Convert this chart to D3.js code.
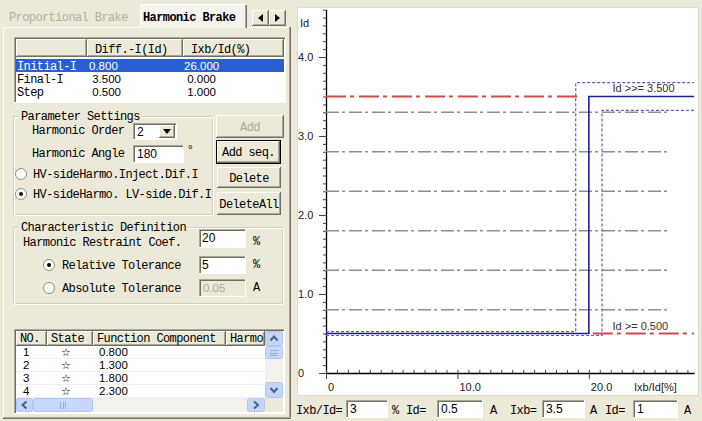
<!DOCTYPE html>
<html>
<head>
<meta charset="utf-8">
<script src="https://cdn.jsdelivr.net/npm/d3@7"></script>
<style>
body { margin: 0; background: #ece9d8; }
svg { display: block; }
</style>
</head>
<body>
<svg id="app" width="702" height="421"></svg>
<script>
// ---- chart values ----
const yMajor = [0, 1, 2, 3, 4];
const yMajorLabels = ['0', '1.0', '2.0', '3.0', '4.0'];
const xMajor = [0, 10, 20];
const xMajorLabels = ['0', '10.0', '20.0'];
const componentId = [0.8, 1.3, 1.8, 2.3, 2.8, 3.3];   // test points (Id)
const componentEnd = 26;                              // Ixb/Id initial (%)
const characteristic = [[0, 0.5], [20, 0.5], [20, 3.5], [28, 3.5]];
const upperBand = [[0, 0.525], [19, 0.525], [19, 3.675], [28, 3.675]];
const lowerBand = [[0, 0.475], [21, 0.475], [21, 3.325], [28, 3.325]];
const limitLines = [{ id: 3.5, from: 0, to: 19.3 }, { id: 0.5, from: 20.3, to: 28 }];
const limitLabels = ['Id >>= 3.500', 'Id >= 0.500'];

// ---- form values ----
const tabLabels = ['Proportional Brake', 'Harmonic Brake'];
const paramHeader = ['', 'Diff.-I(Id)', 'Ixb/Id(%)'];
const paramRows = ['Initial-I', 'Final-I', 'Step'];
const diffValues = ['0.800', ' 3.500', ' 0.500'];
const ratioValues = ['26.000', ' 0.000', ' 1.000'];
const listHeader = ['NO.', 'State', 'Function Component', 'Harmo'];
const listNo = ['1', '2', '3', '4'];
const listComponent = ['0.800', '1.300', '1.800', '2.300'];
const bottomFields = [
    { name: 'Ixb/Id=', value: '3', unit: '%' },
    { name: 'Id=', value: '0.5', unit: 'A' },
    { name: 'Ixb=', value: '3.5', unit: 'A' },
    { name: 'Id=', value: '1', unit: 'A' }
];

const svg = d3.select('#app');
const MONO = "'Liberation Mono', 'DejaVu Sans Mono', monospace";
const SANS = "'Liberation Sans', Arial, sans-serif";
const BG = '#ece9d8';

svg.append('rect').attr('width', 702).attr('height', 421).attr('fill', BG);

function px(g, x, y, w, h, color) {
    g.append('rect').attr('x', x).attr('y', y).attr('width', w).attr('height', h)
        .attr('fill', color).attr('shape-rendering', 'crispEdges');
}

function label(g, x, y, str, opts = {}) {
    return g.append('text')
        .attr('x', x).attr('y', y)
        .attr('font-family', opts.font || MONO)
        .attr('font-size', opts.size || 12)
        .attr('letter-spacing', opts.font ? 0 : (opts.spacing !== undefined ? opts.spacing : -0.6))
        .attr('font-weight', opts.weight || 'normal')
        .attr('fill', opts.color || '#000')
        .attr('text-anchor', opts.anchor || 'start')
        .attr('xml:space', 'preserve')
        .text(str);
}

function raised(g, x, y, w, h) {
    px(g, x, y, w, h, BG);
    px(g, x, y, w, 1, '#fff'); px(g, x, y, 1, h, '#fff');
    px(g, x, y + h - 1, w, 1, '#716f64'); px(g, x + w - 1, y, 1, h, '#716f64');
    px(g, x + 1, y + h - 2, w - 2, 1, '#aca899'); px(g, x + w - 2, y + 1, 1, h - 2, '#aca899');
}

function sunken(g, x, y, w, h, fill) {
    px(g, x, y, w, h, fill || '#fff');
    px(g, x, y, w, 1, '#aca899'); px(g, x, y, 1, h, '#aca899');
    px(g, x + 1, y + 1, w - 2, 1, '#716f64'); px(g, x + 1, y + 1, 1, h - 2, '#716f64');
    px(g, x, y + h - 1, w, 1, '#fff'); px(g, x + w - 1, y, 1, h, '#fff');
}

function button(g, x, y, w, h, text, opts = {}) {
    if (opts.isDefault) {
        px(g, x, y, w, h, '#000');
        raised(g, x + 1, y + 1, w - 2, h - 2);
    } else {
        raised(g, x, y, w, h);
    }
    label(g, x + w / 2, y + h / 2 + 4, text, { anchor: 'middle', color: opts.disabled ? '#aca899' : '#000' });
}

function radio(g, cx, cy, checked) {
    g.append('circle').attr('cx', cx).attr('cy', cy).attr('r', 5.5)
        .attr('fill', '#fff').attr('stroke', '#8d8b80');
    if (checked) g.append('circle').attr('cx', cx).attr('cy', cy).attr('r', 2).attr('fill', '#000');
}

function groupBox(g, x, y, w, h, title) {
    g.append('rect').attr('x', x + 0.5).attr('y', y + 0.5).attr('width', w - 1).attr('height', h - 1)
        .attr('fill', 'none').attr('stroke', '#d0d0bf');
    g.append('rect').attr('x', x + 1.5).attr('y', y + 1.5).attr('width', w - 1).attr('height', h - 1)
        .attr('fill', 'none').attr('stroke', '#fff');
    px(g, x + 6, y - 6, title.length * 6.6 + 3, 12, BG);
    label(g, x + 8, y + 4, title);
}

function xpArrow(g, x, y, w, h, dir) {
    g.append('rect').attr('x', x + 0.5).attr('y', y + 0.5).attr('width', w - 1).attr('height', h - 1)
        .attr('rx', 2).attr('fill', '#c4d5fc').attr('stroke', '#b1c5f3');
    const cx = x + w / 2, cy = y + h / 2;
    const pts = {
        up: [[cx - 3.5, cy + 2], [cx, cy - 2], [cx + 3.5, cy + 2]],
        down: [[cx - 3.5, cy - 2], [cx, cy + 2], [cx + 3.5, cy - 2]],
        left: [[cx + 2, cy - 3.5], [cx - 2, cy], [cx + 2, cy + 3.5]],
        right: [[cx - 2, cy - 3.5], [cx + 2, cy], [cx - 2, cy + 3.5]]
    }[dir];
    g.append('path').attr('d', d3.line()(pts)).attr('fill', 'none')
        .attr('stroke', '#4d6185').attr('stroke-width', 2);
}

// ================= left panel =================
const left = svg.append('g');

// tab page frame
px(left, 3, 27, 287, 1, '#fff');
px(left, 3, 27, 1, 392, '#fff');
px(left, 289, 27, 1, 392, '#aca899'); px(left, 290, 27, 1, 392, '#716f64');
px(left, 3, 417, 288, 1, '#aca899'); px(left, 3, 418, 288, 1, '#716f64');

// tabs
label(left, 9, 21, tabLabels[0], { color: '#b0ad9e' });
px(left, 140, 4, 107, 24, '#f4f3ee');
px(left, 140, 4, 106, 1, '#fff'); px(left, 140, 4, 1, 24, '#fff');
px(left, 245, 5, 1, 23, '#aca899'); px(left, 246, 5, 1, 23, '#716f64');
label(left, 143, 21, tabLabels[1], { weight: 'bold' });
raised(left, 252, 10, 17, 16);
raised(left, 269, 10, 17, 16);
left.append('path').attr('d', 'M263,14 L258,18 L263,22 Z').attr('fill', '#000');
left.append('path').attr('d', 'M275,14 L280,18 L275,22 Z').attr('fill', '#000');

// parameter table
const colX = [16, 87, 183, 284];
sunken(left, 14, 37, 272, 66, '#fff');
paramHeader.forEach((h, i) => {
    raised(left, colX[i], 39, colX[i + 1] - colX[i], 18);
    if (h) label(left, colX[i] + 8, 53, h);
});
px(left, 16, 59, 268, 13, '#2a5fd4');
paramRows.forEach((r, i) => {
    const by = 70 + i * 13;
    const c = i === 0 ? '#fff' : '#000';
    label(left, 17, by, r, { color: c });
    label(left, 89, by, diffValues[i], { color: c, font: SANS, size: 11.5 });
    label(left, 184, by, ratioValues[i], { color: c, font: SANS, size: 11.5 });
});

// parameter settings
groupBox(left, 13, 116, 200, 99, 'Parameter Settings');
label(left, 32, 134, 'Harmonic Order');
sunken(left, 133, 123, 44, 17, '#fff');
label(left, 137, 136, '2', { font: SANS, size: 12 });
raised(left, 159, 125, 16, 13);
left.append('path').attr('d', 'M163,129 L171,129 L167,134 Z').attr('fill', '#000');
button(left, 216, 115, 68, 23, 'Add', { disabled: true });

label(left, 32, 157, 'Harmonic Angle');
sunken(left, 133, 145, 51, 18, '#fff');
label(left, 137, 158, '180', { font: SANS, size: 12 });
label(left, 188, 154, '°', { font: SANS, size: 12 });
button(left, 216, 140, 65, 24, 'Add seq.', { isDefault: true });

radio(left, 21, 174, false);
label(left, 33, 178, 'HV-sideHarmo.Inject.Dif.I');
button(left, 217, 167, 64, 21, 'Delete');
radio(left, 21, 194, true);
label(left, 33, 198, 'HV-sideHarmo. LV-side.Dif.I');
button(left, 217, 192, 64, 23, 'DeleteAll');

// characteristic definition
groupBox(left, 13, 227, 270, 77, 'Characteristic Definition');
label(left, 23, 246, 'Harmonic Restraint Coef.');
sunken(left, 199, 229, 47, 19, '#fff');
label(left, 202, 242, '20', { font: SANS, size: 12 });
label(left, 253, 245, '%');
radio(left, 49, 265, true);
label(left, 62, 269, 'Relative Tolerance');
sunken(left, 199, 256, 47, 18, '#fff');
label(left, 202, 269, '5', { font: SANS, size: 12 });
label(left, 253, 268, '%');
radio(left, 49, 288, false);
label(left, 62, 292, 'Absolute Tolerance');
sunken(left, 199, 279, 47, 18, BG);
label(left, 203, 292, '0.05', { font: SANS, size: 11.5, color: '#aca899' });
label(left, 253, 291, 'A');

// function component list
const lcol = [16, 47, 93, 226, 265];
sunken(left, 14, 329, 271, 85, '#fff');
listHeader.forEach((h, i) => {
    raised(left, lcol[i], 331, lcol[i + 1] - lcol[i], 15);
    label(left, lcol[i] + 4, 342, h);
});
listNo.forEach((n, i) => {
    const by = 356 + i * 13;
    px(left, 16, by + 2, 249, 1, '#f0f0f0');
    label(left, 23, by, n, { font: SANS, size: 11.5 });
    label(left, 66, by, '☆', { font: "'DejaVu Sans', sans-serif", size: 11, anchor: 'middle' });
    label(left, 99, by, listComponent[i], { font: SANS, size: 11.5 });
});
// vertical scrollbar
px(left, 265, 331, 18, 67, '#f3f1ec');
xpArrow(left, 265, 331, 18, 15, 'up');
left.append('rect').attr('x', 265.5).attr('y', 346.5).attr('width', 17).attr('height', 12)
    .attr('rx', 2).attr('fill', '#c8d8fd').attr('stroke', '#b1c5f3');
[350, 352.5, 355].forEach(yy => px(left, 270, yy, 8, 1, '#98acd8'));
xpArrow(left, 265, 382, 18, 16, 'down');
// horizontal scrollbar
px(left, 16, 398, 249, 14, '#f3f1ec');
xpArrow(left, 16, 398, 17, 14, 'left');
left.append('rect').attr('x', 33.5).attr('y', 398.5).attr('width', 59).attr('height', 13)
    .attr('rx', 2).attr('fill', '#c8d8fd').attr('stroke', '#b1c5f3');
[60, 62.5, 65].forEach(xx => px(left, xx, 402, 1, 7, '#98acd8'));
xpArrow(left, 247, 398, 18, 14, 'right');
px(left, 265, 398, 18, 14, BG);

// ================= chart =================
const chart = svg.append('g');
chart.append('rect').attr('x', 297.5).attr('y', 7.5).attr('width', 401).attr('height', 388)
    .attr('fill', '#fff').attr('stroke', '#dedcd2');

const x = d3.scaleLinear().domain([0, 28]).range([326, 694]);
const y = d3.scaleLinear().domain([0, 4.6]).range([373, 9.6]);

// y axis
chart.append('g').attr('transform', 'translate(326,0)')
    .call(d3.axisLeft(y).tickValues(d3.range(0, 4.65, 0.1)).tickSize(3).tickSizeOuter(0).tickFormat(''));
const yMaj = chart.append('g').attr('transform', 'translate(326,0)')
    .call(d3.axisLeft(y).tickValues(yMajor).tickSize(7).tickFormat(''));
yMaj.select('.domain').remove();

// x axis
chart.append('g').attr('transform', 'translate(0,373)')
    .call(d3.axisTop(x).tickValues(d3.range(0, 28, 10 / 12)).tickSize(3).tickSizeOuter(0).tickFormat(''));
const xMaj = chart.append('g').attr('transform', 'translate(0,373)')
    .call(d3.axisBottom(x).tickValues(xMajor).tickSize(6).tickFormat(''));
xMaj.select('.domain').remove();
chart.selectAll('.domain').attr('stroke', '#000').attr('stroke-width', 1.3);
chart.selectAll('.tick line').attr('stroke', '#444');

yMajor.forEach((v, i) => label(chart, 298, y(v) + 4, yMajorLabels[i], { font: SANS, size: 11, color: '#222' }));
xMajor.forEach((v, i) => label(chart, x(v) + 2, 391, xMajorLabels[i], { font: SANS, size: 11, color: '#222' }));
label(chart, 300, 27, 'Id', { font: SANS, size: 11, color: '#222' });
label(chart, 634, 391, 'Ixb/Id[%]', { font: SANS, size: 11, color: '#222' });

// test point lines
chart.append('g').selectAll('line').data(componentId).join('line')
    .attr('x1', x(0)).attr('x2', x(componentEnd))
    .attr('y1', d => y(d)).attr('y2', d => y(d))
    .attr('stroke', '#8e8e8e').attr('stroke-width', 1.4)
    .attr('stroke-dasharray', '13,3,3,4');

// limit lines
chart.append('g').selectAll('line').data(limitLines).join('line')
    .attr('x1', d => x(d.from)).attr('x2', d => x(d.to))
    .attr('y1', d => y(d.id)).attr('y2', d => y(d.id))
    .attr('stroke', '#d14b4b').attr('stroke-width', 2)
    .attr('stroke-dasharray', '20,4,4,5');

const line = d3.line().x(d => x(d[0])).y(d => y(d[1]));
[upperBand, lowerBand].forEach(band => {
    chart.append('path').attr('d', line(band)).attr('fill', 'none')
        .attr('stroke', '#5a5ae0').attr('stroke-width', 1.2).attr('stroke-dasharray', '3,2');
});
chart.append('path').attr('d', line(characteristic)).attr('fill', 'none')
    .attr('stroke', '#1f1f99').attr('stroke-width', 1.6);

label(chart, x(21.8), y(characteristic[2][1]) - 5, limitLabels[0], { font: SANS, size: 11, color: '#333' });
label(chart, x(21.8), y(characteristic[0][1]) - 4, limitLabels[1], { font: SANS, size: 11, color: '#333' });

// ================= bottom inputs =================
const bottom = svg.append('g');
const fieldPos = [
    { lx: 296, bx: 346, bw: 42, ux: 392 },
    { lx: 406, bx: 437, bw: 46, ux: 490 },
    { lx: 510, bx: 542, bw: 43, ux: 590 },
    { lx: 605, bx: 633, bw: 45, ux: 684 }
];
bottomFields.forEach((f, i) => {
    const p = fieldPos[i];
    label(bottom, p.lx, 414, f.name);
    sunken(bottom, p.bx, 400, p.bw, 18, '#fff');
    label(bottom, p.bx + 4, 413, f.value, { font: SANS, size: 12 });
    label(bottom, p.ux, 414, f.unit);
});
</script>
</body>
</html>
